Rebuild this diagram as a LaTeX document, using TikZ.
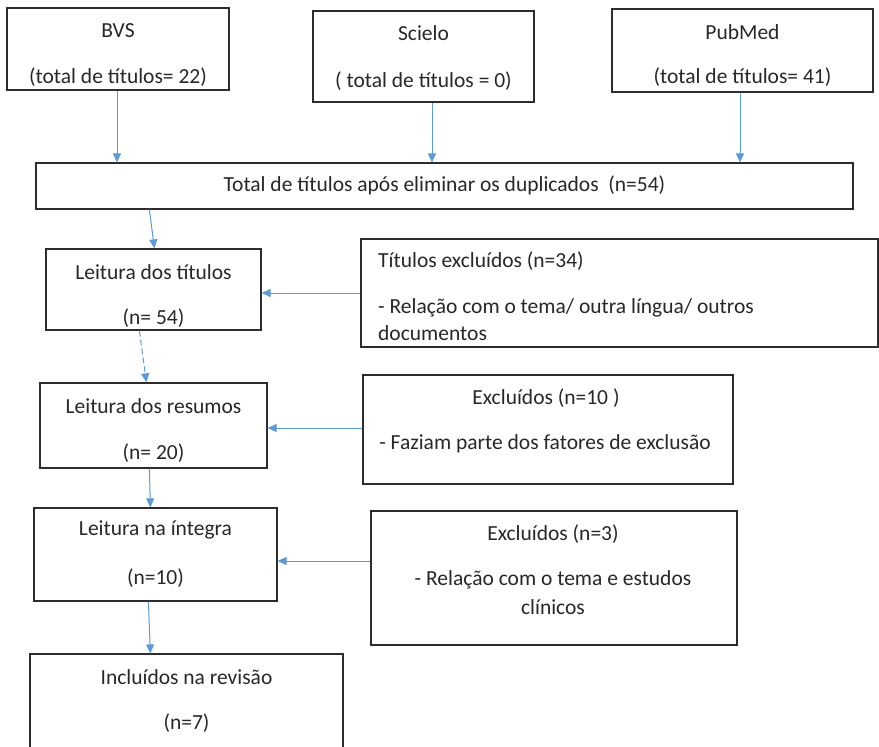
\documentclass[tikz,border=0pt]{standalone}
\usepackage{fontspec}
\setmainfont{Carlito}
\usetikzlibrary{arrows.meta,fit}
\definecolor{arrowblue}{RGB}{91,155,213}
\definecolor{boxline}{RGB}{45,45,45}
\definecolor{txtcol}{RGB}{40,40,40}
\begin{document}
\begin{tikzpicture}[x=1pt,y=-1pt,
  box/.style={draw=boxline, line width=1.2pt, inner sep=0pt},
  txt/.style={inner sep=0pt, text=txtcol, font=\fontsize{21.5}{25}\selectfont},
  arr/.style={draw=arrowblue, line width=1pt, -{Triangle[width=8pt,length=9pt]}}]
\useasboundingbox (0,0) rectangle (879,747);
\fill[white] (0,0) rectangle (879,747);
\clip (0,0) rectangle (879,747);

% corner coordinates
\coordinate (bvsA) at (7,8);     \coordinate (bvsB) at (229,90);
\coordinate (sciA) at (313,11);  \coordinate (sciB) at (534,102);
\coordinate (pubA) at (612,9);   \coordinate (pubB) at (873,92);
\coordinate (totA) at (36,163);  \coordinate (totB) at (853,209);
\coordinate (ltA) at (46,249);   \coordinate (ltB) at (261,330);
\coordinate (teA) at (361,239);  \coordinate (teB) at (878,347);
\coordinate (lrA) at (40,383);   \coordinate (lrB) at (267,468);
\coordinate (e10A) at (363,375); \coordinate (e10B) at (733,484);
\coordinate (liA) at (34,508);   \coordinate (liB) at (277,601);
\coordinate (e3A) at (371,511);  \coordinate (e3B) at (737,645);
\coordinate (inA) at (30,654);   \coordinate (inB) at (343,770);

% boxes
\node[box, fit=(bvsA)(bvsB)] (bvs) {};
\node[box, fit=(sciA)(sciB)] (sci) {};
\node[box, fit=(pubA)(pubB)] (pub) {};
\node[box, fit=(totA)(totB)] (tot) {};
\node[box, fit=(ltA)(ltB)] (lt) {};
\node[box, fit=(teA)(teB)] (te) {};
\node[box, fit=(lrA)(lrB)] (lr) {};
\node[box, fit=(e10A)(e10B)] (e10) {};
\node[box, fit=(liA)(liB)] (li) {};
\node[box, fit=(e3A)(e3B)] (e3) {};
\node[box, fit=(inA)(inB)] (inc) {};

% texts
\node[txt] (bvs1) at (118,31) {BVS};
\node[txt] (bvs2) at (118,77) {(total de títulos= 22)};
\node[txt] (sci1) at (423.5,33) {Scielo};
\node[txt] (sci2) at (423.5,81) {( total de títulos = 0)};
\node[txt] (pub1) at (742.5,32) {PubMed};
\node[txt] (pub2) at (742.5,77) {(total de títulos= 41)};
\node[txt] (tot1) at (444.5,185) {Total de títulos após eliminar os duplicados\ \ (n=54)};
\node[txt] (lt1) at (153.5,272) {Leitura dos títulos};
\node[txt] (lt2) at (153.5,318) {(n= 54)};
\node[txt,anchor=west] (te1) at (378,261) {Títulos excluídos (n=34)};
\node[txt,anchor=west] (te2) at (378,308) {- Relação com o tema/ outra língua/ outros};
\node[txt,anchor=west] (te3) at (378,333) {documentos};
\node[txt] (lr1) at (153.5,406) {Leitura dos resumos};
\node[txt] (lr2) at (153.5,453) {(n= 20)};
\node[txt] (e101) at (546,398) {Excluídos (n=10 )};
\node[txt] (e102) at (545,444) {- Faziam parte dos fatores de exclusão};
\node[txt] (li1) at (155.5,530) {Leitura na íntegra};
\node[txt] (li2) at (155.5,578) {(n=10)};
\node[txt] (e31) at (553,534) {Excluídos (n=3)};
\node[txt] (e32) at (553,580) {- Relação com o tema e estudos};
\node[txt] (e33) at (553,607) {clínicos};
\node[txt] (in1) at (186.5,677) {Incluídos na revisão};
\node[txt] (in2) at (186.5,723) {(n=7)};

% connectors
\coordinate (s1) at ([xshift=-1pt]bvs.south);
\draw[arr] (s1) -- (s1 |- tot.north);
\coordinate (s2) at ([xshift=8.5pt]sci.south);
\draw[arr] (s2) -- (s2 |- tot.north);
\coordinate (s3) at ([xshift=-2.5pt]pub.south);
\draw[arr] (s3) -- (s3 |- tot.north);
\draw[arr] ([xshift=114pt]tot.south west) -- ([xshift=109pt]lt.north west);
\draw[arr] (te.west) -- (te.west -| lt.east);
\draw[arr, dash pattern=on 6pt off 3pt] ([xshift=94pt]lt.south west) -- ([xshift=107pt]lr.north west);
\draw[arr] ([yshift=1.5pt]e10.west) -- ([yshift=1.5pt]e10.west -| lr.east);
\draw[arr] ([xshift=110pt]lr.south west) -- ([xshift=117pt]li.north west);
\coordinate (s4) at ([yshift=17pt]e3.west);
\draw[arr] (s4) -- (s4 -| li.east);
\draw[arr] ([xshift=115pt]li.south west) -- ([xshift=121pt]inc.north west);
\end{tikzpicture}
\end{document}
